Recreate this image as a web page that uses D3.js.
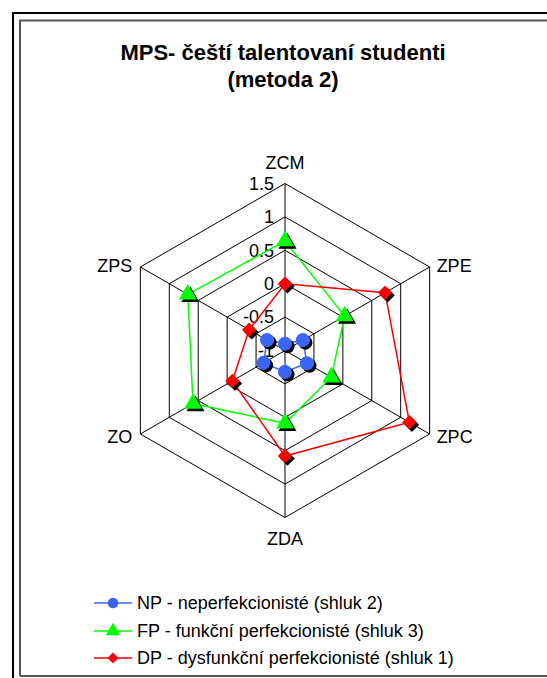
<!DOCTYPE html>
<html>
<head>
<meta charset="utf-8">
<script src="https://cdn.jsdelivr.net/npm/d3@7"></script>
<style>
  body { margin: 0; background: #fff; }
  text { font-family: "Liberation Sans", Arial, sans-serif; fill: #000; }
</style>
</head>
<body>
<svg id="chart" width="547" height="678"></svg>
<script>
// ---------------------------------------------------------------------------
// data
// ---------------------------------------------------------------------------
const axes = ["ZCM", "ZPE", "ZPC", "ZDA", "ZO", "ZPS"];
const ticks = [-1, -0.5, 0, 0.5, 1, 1.5];

const seriesNames = [
  "NP - neperfekcionisté (shluk 2)",
  "FP - funkční perfekcionisté (shluk 3)",
  "DP - dysfunkční perfekcionisté (shluk 1)"
];
const npValues = [-0.9, -0.69, -0.62, -0.68, -0.63, -0.69];
const fpValues = [0.64, 0.03, -0.2, 0.09, 0.59, 0.68];
const dpValues = [0.0, 0.73, 1.15, 0.58, -0.09, -0.38];

const seriesColors = ["#3b66f5", "#00ff00", "#ff0000"];
const series = [npValues, fpValues, dpValues];

// ---------------------------------------------------------------------------
// setup
// ---------------------------------------------------------------------------
const svg = d3.select("#chart");
const cx = 285, cy = 350.5, R = 167;

// frame (only left / top / bottom visible in the original)
svg.append("path")
  .attr("d", "M13,678 V13 H547")
  .attr("fill", "none").attr("stroke", "#000").attr("stroke-width", 2);
svg.append("path")
  .attr("d", "M20,676 V20.5 H547 M20,676 H547")
  .attr("fill", "none").attr("stroke", "#555").attr("stroke-width", 2);

// title
const title = svg.append("text")
  .attr("text-anchor", "middle")
  .style("font-weight", "bold")
  .style("font-size", "22px");
title.append("tspan").attr("x", 283).attr("y", 60).text("MPS- čeští talentovaní studenti");
title.append("tspan").attr("x", 283).attr("y", 87).text("(metoda 2)");

const r = d3.scaleLinear().domain([-1, 1.5]).range([0, R]);
const angle = i => (i * 2 * Math.PI) / axes.length;
const pt = (i, v) => [cx + r(v) * Math.sin(angle(i)), cy - r(v) * Math.cos(angle(i))];

const g = svg.append("g");

// rings
ticks.slice(1).forEach(t => {
  g.append("path")
    .attr("d", d3.line()(axes.map((a, i) => pt(i, t))) + "Z")
    .attr("fill", "none").attr("stroke", "#000").attr("stroke-width", 1);
});

// spokes
axes.forEach((a, i) => {
  const [x, y] = pt(i, 1.5);
  g.append("line")
    .attr("x1", cx).attr("y1", cy).attr("x2", x).attr("y2", y)
    .attr("stroke", "#000").attr("stroke-width", 1);
});

// tick labels
ticks.forEach(t => {
  g.append("text")
    .attr("x", cx - 11)
    .attr("y", cy - r(t))
    .attr("dy", "0.35em")
    .attr("text-anchor", "end")
    .style("font-size", "18px")
    .text(t);
});

// axis labels
const labelPos = [
  { dx: 0, dy: -15, anchor: "middle" },
  { dx: 7, dy: 5, anchor: "start" },
  { dx: 7, dy: 9, anchor: "start" },
  { dx: 0, dy: 27.5, anchor: "middle" },
  { dx: -8, dy: 9, anchor: "end" },
  { dx: -8, dy: 4.5, anchor: "end" }
];
axes.forEach((a, i) => {
  const [x, y] = pt(i, 1.5);
  g.append("text")
    .attr("x", x + labelPos[i].dx)
    .attr("y", y + labelPos[i].dy)
    .attr("text-anchor", labelPos[i].anchor)
    .style("font-size", "18px")
    .text(a);
});

// markers: circle, triangle, diamond (square turned 45 degrees)
const markers = [
  { sym: d3.symbol().type(d3.symbolCircle).size(155), rot: 0 },
  { sym: d3.symbol().type(d3.symbolTriangle).size(140), rot: 0 },
  { sym: d3.symbol().type(d3.symbolSquare).size(105), rot: 45 }
];

// series
series.forEach((vals, s) => {
  const pts = vals.map((v, i) => pt(i, v));
  g.append("path")
    .attr("d", d3.line()(pts) + "Z")
    .attr("fill", "none")
    .attr("stroke", seriesColors[s])
    .attr("stroke-width", 1.5);
  const m = markers[s];
  // shadow
  g.selectAll(null).data(pts).join("path")
    .attr("d", m.sym)
    .attr("transform", d => `translate(${d[0] + 2.5},${d[1] + 2.5}) rotate(${m.rot})`)
    .attr("fill", "#000");
  g.selectAll(null).data(pts).join("path")
    .attr("d", m.sym)
    .attr("transform", d => `translate(${d[0]},${d[1]}) rotate(${m.rot})`)
    .attr("fill", seriesColors[s]);
});

// legend
const legend = svg.append("g");
const legendY = [603, 631, 658];
const legendMarkers = [
  d3.symbol().type(d3.symbolCircle).size(90),
  d3.symbol().type(d3.symbolTriangle).size(90),
  d3.symbol().type(d3.symbolSquare).size(60)
];
seriesNames.forEach((name, s) => {
  const y = legendY[s];
  legend.append("line")
    .attr("x1", 94).attr("x2", 132).attr("y1", y).attr("y2", y)
    .attr("stroke", seriesColors[s]).attr("stroke-width", 1.5);
  legend.append("path")
    .attr("d", legendMarkers[s]())
    .attr("transform", `translate(113,${y}) rotate(${markers[s].rot})`)
    .attr("fill", seriesColors[s]);
  legend.append("text")
    .attr("x", 137).attr("y", y)
    .attr("dy", "0.35em")
    .style("font-size", "18px")
    .text(name);
});
</script>
</body>
</html>
